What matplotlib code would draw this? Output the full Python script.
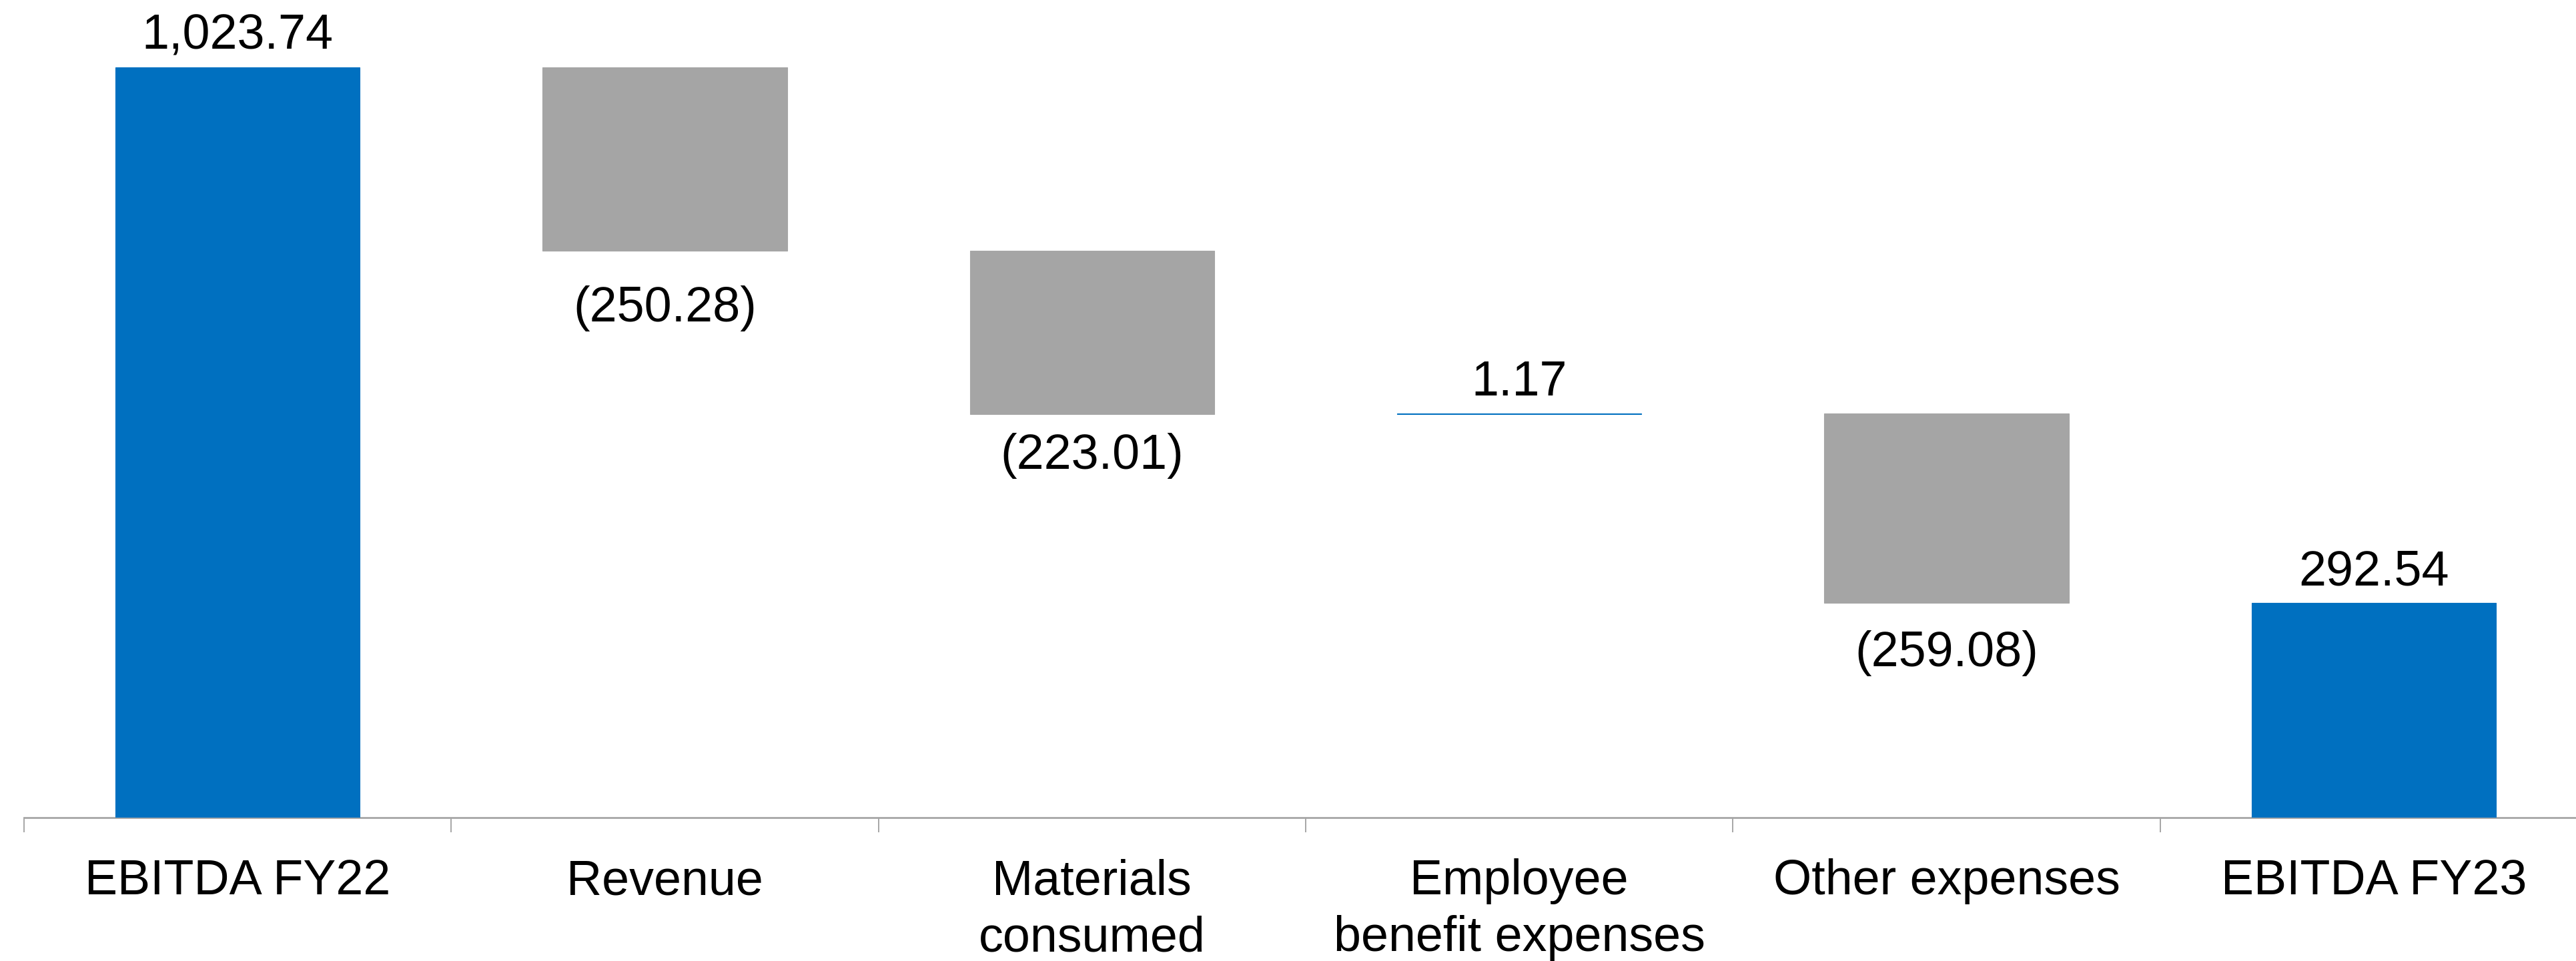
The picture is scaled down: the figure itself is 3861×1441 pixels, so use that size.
import numpy as np
import matplotlib
matplotlib.use("Agg")
import matplotlib.pyplot as plt

plt.rcParams['font.family'] = ['Liberation Sans', 'DejaVu Sans']

# --------- data ----------
categories = ["EBITDA FY22", "Revenue", "Materials\nconsumed",
              "Employee\nbenefit expenses", "Other expenses", "EBITDA FY23"]
values = [1023.74, -250.28, -223.01, 1.17, -259.08, 292.54]
is_total = [True, False, False, False, False, True]

# --------- colours / style ----------
total_color = "#0070C0"
up_color = "#0070C0"
down_color = "#A5A5A5"
axis_color = "#A6A6A6"
fs = 53
# distance (px) from bar end to label baseline
label_pad_px = [27, 106, 82, 27, 95, 27]

# waterfall bottoms
bottoms = []
heights = []
colors = []
running = 0.0
for v, tot in zip(values, is_total):
    if tot:
        bottoms.append(0.0)
        heights.append(v)
        colors.append(total_color)
        running = v
    else:
        if v >= 0:
            bottoms.append(running)
            colors.append(up_color)
        else:
            bottoms.append(running + v)
            colors.append(down_color)
        heights.append(abs(v))
        running += v

fig = plt.figure(figsize=(38.61, 14.41), dpi=100)
ax = fig.add_axes([0.0093, 0.1492, 0.9951, 0.839])

x = np.arange(len(categories))
ax.bar(x, heights, bottom=bottoms, width=0.572, color=colors,
       edgecolor=colors, linewidth=0.8, zorder=3)

ax.set_xlim(-0.5, len(categories) - 0.5)
ax.set_ylim(0, 1100)

# labels
def fmt(v):
    if v < 0:
        return "({:,.2f})".format(abs(v))
    return "{:,.2f}".format(v)

for i, (v, tot) in enumerate(zip(values, is_total)):
    pad_pt = label_pad_px[i] * 0.72
    if v >= 0:
        y = bottoms[i] + heights[i]
        ax.annotate(fmt(v), (x[i], y), xytext=(0, pad_pt), textcoords="offset points",
                    ha="center", va="baseline", fontsize=fs, color="black")
    else:
        y = bottoms[i]
        ax.annotate(fmt(v), (x[i], y), xytext=(0, -pad_pt), textcoords="offset points",
                    ha="center", va="baseline", fontsize=fs, color="black")

# axes styling
for s in ["top", "right", "left"]:
    ax.spines[s].set_visible(False)
ax.spines["bottom"].set_color(axis_color)
ax.spines["bottom"].set_linewidth(2.0)
ax.set_yticks([])

ax.set_xticks(x)
ax.set_xticklabels(categories, fontsize=fs, linespacing=1.3)
ax.tick_params(axis="x", which="major", length=0, pad=44)
ax.set_xticks(np.arange(-0.5, len(categories), 1.0), minor=True)
ax.tick_params(axis="x", which="minor", length=16, width=1.4, color=axis_color,
               direction="out")

fig.savefig("out.png", dpi=100)
